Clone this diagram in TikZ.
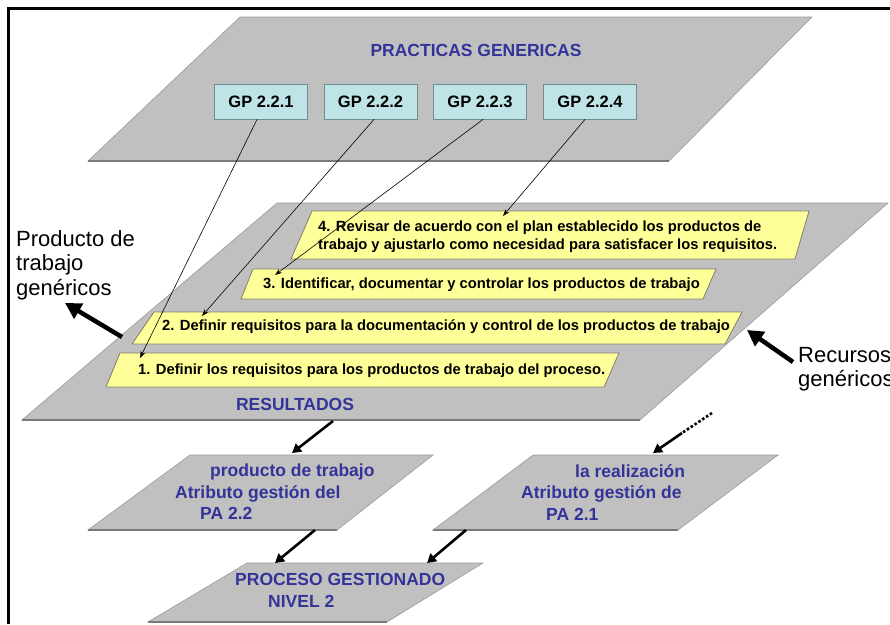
\documentclass[tikz,border=0pt]{standalone}
\usepackage{fontspec}
\setmainfont{Liberation Sans}
\usetikzlibrary{arrows.meta}
\definecolor{pgray}{HTML}{C0C0C0}
\definecolor{pedge}{HTML}{9A9A9A}
\definecolor{pdark}{HTML}{7A7A7A}
\definecolor{pyellow}{HTML}{FFFF99}
\definecolor{yedge}{HTML}{7F7F6A}
\definecolor{pcyan}{HTML}{BEE4E8}
\definecolor{cedge}{HTML}{6F8C90}
\definecolor{pblue}{HTML}{333399}
\begin{document}
\begin{tikzpicture}[x=1pt,y=-1pt,
  plane/.style={fill=pgray, draw=pedge, line width=0.6pt},
  planeedge/.style={draw=pdark, line width=1.6pt},
  ybox/.style={fill=pyellow, draw=yedge, line width=0.8pt},
  btext/.style={text=pblue, font=\bfseries\fontsize{17.5}{21.5}\selectfont, inner sep=0pt, align=left},
  ytext/.style={font=\bfseries\fontsize{14.75}{18}\selectfont, inner sep=0pt, align=left},
  sidetext/.style={font=\fontsize{22}{24.5}\selectfont, inner sep=0pt, align=left},
  gpbox/.style={fill=pcyan, draw=cedge, line width=0.8pt, minimum width=93pt, minimum height=35pt, inner sep=0pt, font=\bfseries\fontsize{16.5}{18}\selectfont},
  link/.style={line width=0.6pt, -{Stealth[length=7pt,width=5pt]}},
  fat/.style={line width=4.5pt, -{Triangle[length=16pt,width=17pt]}},
  midarrow/.style={line width=2.6pt, -{Triangle[length=9pt,width=10pt]}},
  frame/.style={line width=3pt}
]
\useasboundingbox (0,0) rectangle (890,624);
\fill[white] (0,0) rectangle (890,624);

% frame
\draw[frame] (8,624) -- (8,8) -- (890,8);

% top plane
\draw[plane] (240,17) -- (812,17) -- (669,161) -- (88,161) -- cycle;
\draw[planeedge] (88,161) -- (669,161);
\node[btext] (pg) at (476,50) {PRACTICAS GENERICAS};
\node[gpbox] (gp1) at (261,101.5) {GP 2.2.1};
\node[gpbox] (gp2) at (370.5,101.5) {GP 2.2.2};
\node[gpbox] (gp3) at (480,101.5) {GP 2.2.3};
\node[gpbox] (gp4) at (590,101.5) {GP 2.2.4};

% middle plane
\draw[plane] (277,203) -- (888,203) -- (640,420) -- (22,420) -- cycle;
\draw[planeedge] (22,420) -- (640,420);

% yellow boxes
\draw[ybox] (312,211) -- (809,211) -- (795,259) -- (291,259) -- cycle;
\draw[ybox] (253,269) -- (716,269) -- (703,299) -- (241,299) -- cycle;
\draw[ybox] (154,312) -- (742,312) -- (725,344) -- (132,344) -- cycle;
\draw[ybox] (120,353) -- (619,353) -- (604,387) -- (106,387) -- cycle;

\node[ytext, anchor=north west] (y4) at (318,221) {4. Revisar de acuerdo con el plan establecido los productos de\\trabajo y ajustarlo como necesidad para satisfacer los requisitos.};
\node[ytext, anchor=west] (y3) at (263,285) {3. Identificar, documentar y controlar los productos de trabajo};
\node[ytext, anchor=west] (y2) at (162,327) {2. Definir requisitos para la documentación y control de los productos de trabajo};
\node[ytext, anchor=west] (y1) at (138,371) {1. Definir los requisitos para los productos de trabajo del proceso.};

\node[btext] (res) at (295,404) {RESULTADOS};

% connectors from GP boxes
\coordinate (t1) at (140,358);
\coordinate (t2) at (202,316);
\coordinate (t3) at (275,275);
\coordinate (t4) at (503,216);
\draw[link] ([xshift=-4pt]gp1.south) -- (t1);
\draw[link] ([xshift=3.5pt]gp2.south) -- (t2);
\draw[link] ([xshift=3pt]gp3.south) -- (t3);
\draw[link] ([xshift=-5pt]gp4.south) -- (t4);

% side labels and arrows
\node[sidetext, anchor=north west] (prod) at (16,230) {Producto de\\trabajo\\genéricos};
\coordinate (pa0) at (122,337);
\coordinate (pa1) at (65,303);
\draw[fat] (pa0) -- (pa1);

\node[sidetext, anchor=north west] (rec) at (798,347) {Recursos\\genéricos};
\coordinate (ra0) at (793,362);
\coordinate (ra1) at (747,330);
\draw[fat] (ra0) -- (ra1);

% lower planes
\draw[plane] (190,455) -- (433,455) -- (337,530) -- (88,530) -- cycle;
\draw[planeedge] (88,530) -- (337,530);
\node[btext, anchor=north west] (pa22) at (175,464) {\hspace*{35pt}producto de trabajo\\Atributo gestión del\\\hspace*{25pt}PA 2.2};

\draw[plane] (533,455) -- (778,455) -- (678,530) -- (433,530) -- cycle;
\draw[planeedge] (433,530) -- (678,530);
\node[btext, anchor=north west] (pa21) at (521,464) {\hspace*{54pt}la realización\\Atributo gestión de\\\hspace*{25pt}PA 2.1};

\draw[plane] (247,563) -- (483,563) -- (387,622) -- (148,622) -- cycle;
\draw[planeedge] (148,622) -- (387,622);
\node[btext, anchor=north west] (proc) at (235,573.5) {PROCESO GESTIONADO\\\hspace*{33pt}NIVEL 2};

% lower arrows
\coordinate (r0) at (333,421);
\coordinate (r1) at (292,453);
\draw[midarrow] (r0) -- (r1);
\coordinate (d0) at (712,413);
\coordinate (d1) at (682,433);
\coordinate (d2) at (653,453);
\draw[line width=2.6pt, dotted] (d0) -- (d1);
\draw[midarrow] (d1) -- (d2);
\coordinate (q0) at (315,530);
\coordinate (q1) at (275,563);
\draw[midarrow] (q0) -- (q1);
\coordinate (s0) at (466,530);
\coordinate (s1) at (427,563);
\draw[midarrow] (s0) -- (s1);
\end{tikzpicture}
\end{document}
